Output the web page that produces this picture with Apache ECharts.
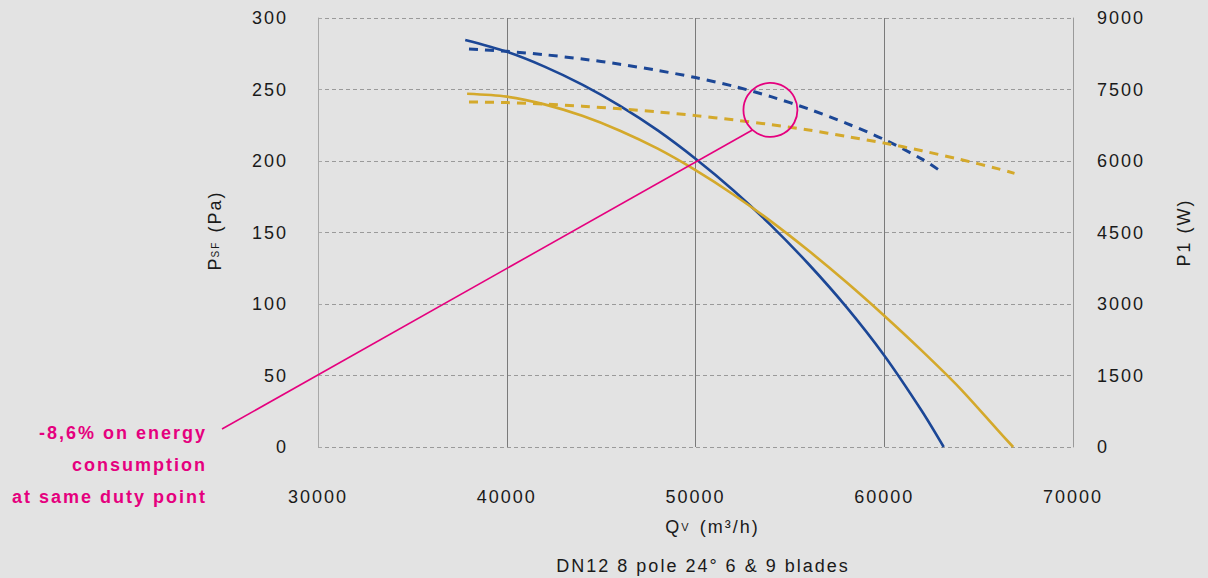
<!DOCTYPE html>
<html><head><meta charset="utf-8">
<script src="https://cdn.jsdelivr.net/npm/echarts@6/dist/echarts.min.js"></script>
<style>
html,body{margin:0;padding:0;background:#e3e3e3;}
#c{width:1208px;height:578px;}
#c text{letter-spacing:2px;}
</style></head><body><div id="c"></div>
<script>
// ---- data ----
const xTicks = [30000, 40000, 50000, 60000, 70000];
const pressureTicks = [0, 50, 100, 150, 200, 250, 300];
const powerTicks = [0, 1500, 3000, 4500, 6000, 7500, 9000];

// pressure curves (Pa) : Qv -> PsF
const qBluePressure = [37800, 40000, 42000, 44000, 46000, 48000, 50000, 52000, 54000, 56000, 58000, 60000, 62000, 63150];
const pBluePressure = [284.6, 276.4, 266, 253.4, 238.6, 221.4, 201.6, 179.6, 155, 127.8, 97.8, 64, 25, 0];
const qGoldPressure = [37900, 40000, 42000, 44000, 46000, 48000, 50000, 52000, 54000, 56000, 58000, 60000, 62000, 64000, 66000, 66830];
const pGoldPressure = [247, 245, 239.6, 231.6, 221.2, 208.6, 193.6, 176.6, 157.8, 137.2, 115.2, 91.8, 67.2, 41.2, 12, 0];

// power curves (W) : Qv -> P1
const qBluePower = [38000, 40000, 42000, 44000, 46000, 48000, 50000, 52000, 54000, 56000, 58000, 60000, 62000, 62900];
const wBluePower = [8350, 8300, 8230, 8140, 8030, 7900, 7750, 7570, 7350, 7090, 6790, 6450, 6040, 5810];
const qGoldPower = [38000, 40000, 42000, 44000, 46000, 48000, 50000, 52000, 54000, 56000, 58000, 60000, 62000, 64000, 66000, 66900];
const wGoldPower = [7240, 7225, 7195, 7150, 7095, 7030, 6952, 6864, 6764, 6650, 6515, 6375, 6215, 6035, 5840, 5740];

const annotationLines = ['-8,6% on energy', 'consumption', 'at same duty point'];
const chartTitle = 'DN12 8 pole 24° 6 & 9 blades';

// annotation anchor (data coords) — circle centre and leader-line end
const circleCentre = [53970, 235.7];
const leaderEnd = [53016, 221.7];

const zip = (a, b) => a.map((v, i) => [v, b[i]]);
const FONT = 'Liberation Sans, Arial, sans-serif';
const INK = '#1a1a1a';
const BLUE = '#1c4796', GOLD = '#d4a92b', PINK = '#e5007e';
const plain = v => String(v);

const chart = echarts.init(document.getElementById('c'), null, {renderer: 'svg'});
chart.setOption({
  backgroundColor: '#e3e3e3',
  animation: false,
  textStyle: {fontFamily: FONT},
  grid: {left: 318, right: 135, top: 18, bottom: 131, containLabel: false},
  xAxis: {
    type: 'value', min: xTicks[0], max: xTicks[xTicks.length - 1], interval: xTicks[1] - xTicks[0],
    axisLine: {show: false}, axisTick: {show: false},
    splitLine: {show: true, showMinLine: false, showMaxLine: false, lineStyle: {color: '#7a7a7a', width: 1}},
    axisLabel: {margin: 41, fontSize: 18, color: INK, fontFamily: FONT, formatter: plain},
    name: '{a|Q}{s|V}{b| (m³/h)}', nameLocation: 'middle', nameGap: 71,
    nameTextStyle: {fontSize: 18, color: INK, fontFamily: FONT, padding: [0, 0, 0, 28],
      rich: {
        a: {fontSize: 18, color: INK, fontFamily: FONT, padding: [0, 2, 0, 0]},
        s: {fontSize: 11, color: INK, fontFamily: FONT, padding: [0, 3, 0, 0]},
        b: {fontSize: 18, color: INK, fontFamily: FONT, padding: [0, 0, 0, 7]}
      }}
  },
  yAxis: [{
    type: 'value', min: pressureTicks[0], max: pressureTicks[pressureTicks.length - 1], interval: pressureTicks[1] - pressureTicks[0],
    position: 'left',
    axisLine: {show: true, lineStyle: {color: '#a8a8a8'}},
    axisTick: {show: true, inside: true, length: 4, lineStyle: {color: '#a8a8a8'}},
    splitLine: {show: true, lineStyle: {color: '#9a9a9a', type: [4, 3], width: 1}},
    axisLabel: {margin: 30, fontSize: 18, color: INK, fontFamily: FONT, formatter: plain},
    name: '{a|P}{s|SF}{b| (Pa)}', nameLocation: 'middle', nameRotate: 90, nameGap: 94,
    nameTextStyle: {fontSize: 18, color: INK, fontFamily: FONT,
      rich: {
        a: {fontSize: 18, color: INK, fontFamily: FONT, padding: [0, 2, 0, 0]},
        s: {fontSize: 10, color: INK, fontFamily: FONT, padding: [0, 4, 0, 0]},
        b: {fontSize: 18, color: INK, fontFamily: FONT, padding: [0, 0, 0, 4]}
      }}
  }, {
    type: 'value', min: powerTicks[0], max: powerTicks[powerTicks.length - 1], interval: powerTicks[1] - powerTicks[0],
    position: 'right',
    axisLine: {show: true, lineStyle: {color: '#9a9a9a'}},
    axisTick: {show: false},
    splitLine: {show: false},
    axisLabel: {margin: 24, fontSize: 18, color: INK, fontFamily: FONT, formatter: plain},
    name: 'P1 (W)', nameLocation: 'middle', nameRotate: 90, nameGap: 102,
    nameTextStyle: {fontSize: 18, color: INK, fontFamily: FONT}
  }],
  series: [
    {name: 'Pressure blue', type: 'line', yAxisIndex: 0, data: zip(qBluePressure, pBluePressure), smooth: 0.3, showSymbol: false, symbol: 'none',
      lineStyle: {color: BLUE, width: 2.6}},
    {name: 'Pressure gold', type: 'line', yAxisIndex: 0, data: zip(qGoldPressure, pGoldPressure), smooth: 0.3, showSymbol: false, symbol: 'none',
      lineStyle: {color: GOLD, width: 2.6}},
    {name: 'Power blue', type: 'line', yAxisIndex: 1, data: zip(qBluePower, wBluePower), smooth: 0.3, showSymbol: false, symbol: 'none',
      lineStyle: {color: BLUE, width: 3, type: [9, 7]}},
    {name: 'Power gold', type: 'line', yAxisIndex: 1, data: zip(qGoldPower, wGoldPower), smooth: 0.3, showSymbol: false, symbol: 'none',
      lineStyle: {color: GOLD, width: 3, type: [9, 7]}}
  ]
});

const c = chart.convertToPixel({xAxisIndex: 0, yAxisIndex: 0}, circleCentre);
const e = chart.convertToPixel({xAxisIndex: 0, yAxisIndex: 0}, leaderEnd);
const graphics = [
  {type: 'line', z: 100, shape: {x1: 222, y1: 429, x2: e[0], y2: e[1]}, style: {stroke: PINK, lineWidth: 1.6}},
  {type: 'circle', z: 100, shape: {cx: c[0], cy: c[1], r: 27}, style: {fill: 'none', stroke: PINK, lineWidth: 1.8}},
  {type: 'text', z: 100, x: 703, y: 566, style: {text: chartTitle, textAlign: 'center', textVerticalAlign: 'middle',
    font: '18px ' + FONT, fill: INK}}
];
annotationLines.forEach((t, i) => {
  graphics.push({type: 'text', z: 100, x: 207, y: 433 + i * 32, style: {text: t, textAlign: 'right', textVerticalAlign: 'middle',
    font: 'bold 18px ' + FONT, fill: PINK}});
});
chart.setOption({graphic: graphics});
</script></body></html>
